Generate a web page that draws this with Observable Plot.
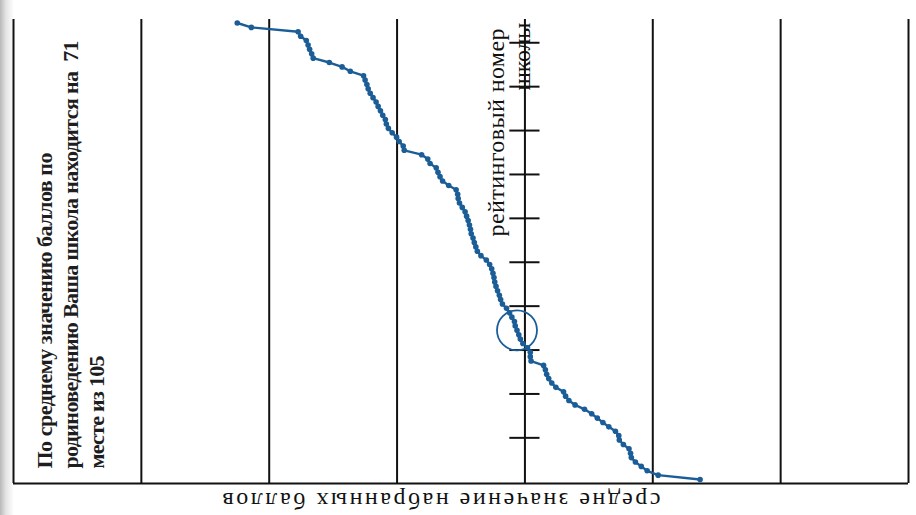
<!DOCTYPE html>
<html><head><meta charset="utf-8">
<script src="https://cdn.jsdelivr.net/npm/d3@7"></script>
<script src="https://cdn.jsdelivr.net/npm/@observablehq/plot@0.6"></script>
<style>
html,body{margin:0;padding:0;}
body{width:916px;height:515px;overflow:hidden;background:linear-gradient(to right,#b8b8b8 0px,#e4e4e4 6px,#ffffff 14px);}
svg{display:block;}
</style></head><body><div id="chart"></div>
<script>
// Average score of each school, in rank order (rank 1 .. 105)
const scores = [
  66.25, 65.70, 63.87, 63.77, 63.55, 63.48, 63.42, 63.34, 63.28, 62.65,
  62.15, 61.83, 61.31, 61.25, 61.18, 61.13, 61.05, 60.94, 60.82, 60.74,
  60.65, 60.56, 60.46, 60.42, 60.34, 60.19, 60.02, 59.92, 59.76, 59.72,
  59.04, 58.80, 58.71, 58.47, 58.40, 58.32, 58.22, 57.98, 57.69, 57.63,
  57.61, 57.56, 57.45, 57.34, 57.28, 57.22, 57.17, 57.13, 57.10, 57.03,
  56.98, 56.92, 56.86, 56.72, 56.51, 56.38, 56.30, 56.25, 56.21, 56.18,
  56.13, 56.07, 56.00, 55.95, 55.88, 55.72, 55.60, 55.51, 55.41, 55.38,
  55.31, 55.24, 55.18, 55.08, 54.90, 54.79, 54.79, 54.76, 54.27, 54.20,
  54.15, 54.07, 53.95, 53.79, 53.49, 53.41, 53.28, 53.04, 52.67, 52.39,
  52.17, 51.95, 51.72, 51.46, 51.33, 51.31, 51.15, 50.93, 50.87, 50.84,
  50.68, 50.45, 50.22, 49.79, 48.15
];
const gridValues = [75, 70, 65, 60, 55, 50, 45, 40];
const axisValue = 55;
const tickRanks = [5, 15, 25, 35, 45, 55, 65, 75, 85, 95];
const highlightRank = 71;
const titleLines = [
  "По среднему значению баллов по",
  "родиноведению Ваша школа находится на\u00A0 71",
  "месте из 105"
];
const yLabelLines = ["рейтинговый номер", "школы"];
const xLabel = "средне значение набранных баллов";

const data = scores.map((v, i) => ({rank: i + 1, score: v}));
const blue = "#1b5d97";
const ink = "#111111";
const yMin = 0.2, yMax = 105.9;
const tickHalf = 0.59;

const marks = [
  Plot.ruleX(gridValues, {stroke: ink, strokeWidth: 2}),
  Plot.ruleY([yMax], {stroke: ink, strokeWidth: 2}),
  Plot.ruleY(tickRanks, {y: d => d + 0.5, x1: axisValue + tickHalf, x2: axisValue - tickHalf, stroke: ink, strokeWidth: 2}),
  Plot.line(data, {x: "score", y: "rank", stroke: blue, strokeWidth: 2.4}),
  Plot.dot(data, {x: "score", y: "rank", r: 2.8, fill: blue}),
  Plot.dot(data.filter(d => d.rank === highlightRank), {x: "score", y: "rank", r: 20, stroke: blue, strokeWidth: 1.8, fill: "none"}),
  ...titleLines.map((t, i) => Plot.text([t], {text: d => d, frameAnchor: "bottom-left", dx: 38 + i * 26, dy: -15, rotate: -90, textAnchor: "start", fontSize: 22, fontWeight: "bold", fill: "#1e1e1e"})),
  Plot.text([yLabelLines[0]], {text: d => d, frameAnchor: "top-left", dx: 473, dy: 9, rotate: -90, textAnchor: "end", fontSize: 24, fill: ink}),
  Plot.text([yLabelLines[1]], {text: d => d, frameAnchor: "top-left", dx: 499, dy: 3, rotate: -90, textAnchor: "end", fontSize: 24, fill: ink}),
  Plot.text([xLabel], {text: d => d, frameAnchor: "bottom-left", dx: 428, dy: 9, rotate: 180, textAnchor: "middle", fontSize: 24, fill: ink})
];

const chart = Plot.plot({
  width: 916, height: 515,
  marginLeft: 13, marginRight: 8, marginTop: 19, marginBottom: 32,
  x: {domain: [75, 40], axis: null},
  y: {domain: [yMin, yMax], reverse: true, axis: null},
  style: {background: "transparent", fontFamily: "Liberation Serif", overflow: "visible"},
  marks
});
document.getElementById("chart").appendChild(chart);

const lengths = new Map([
  [titleLines[0], 316], [titleLines[1], 428], [titleLines[2], 113],
  [yLabelLines[0], 208], [yLabelLines[1], 68], [xLabel, 438]
]);
chart.querySelectorAll("text").forEach(el => {
  const L = lengths.get(el.textContent);
  if (L) { el.setAttribute("textLength", L); el.setAttribute("lengthAdjust", "spacing"); }
});
</script></body></html>
